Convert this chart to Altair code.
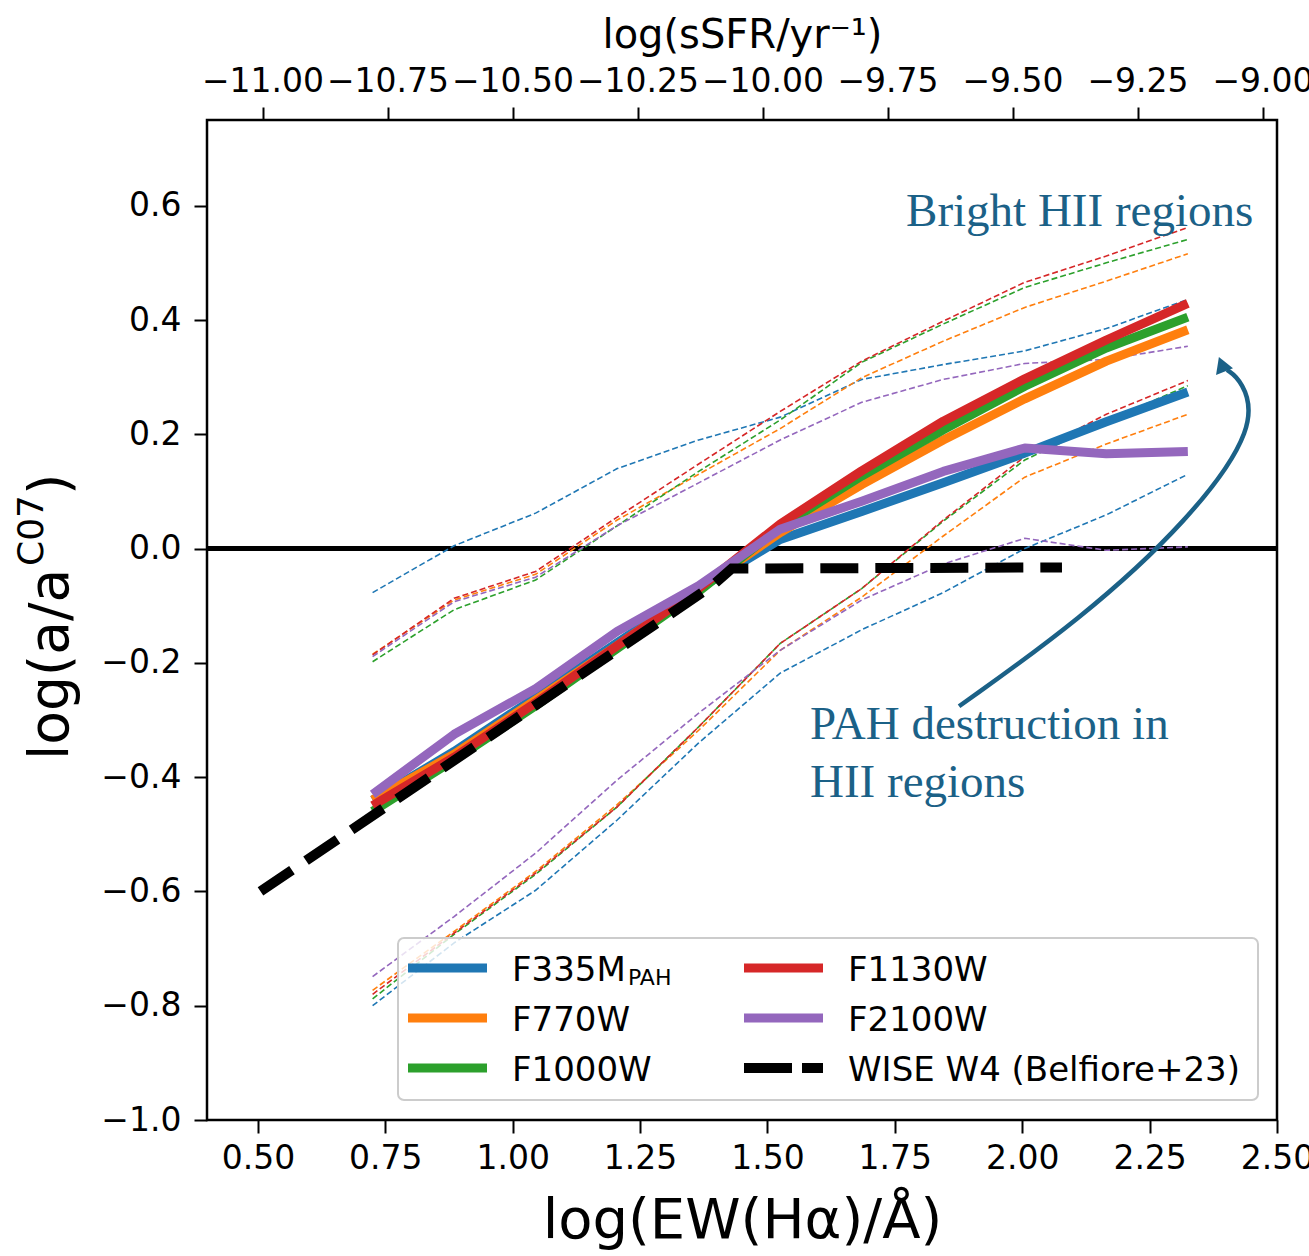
import altair as alt
import pandas as pd

# ---------------- data ----------------
x_pts = [0.725, 0.885, 1.045, 1.205, 1.365, 1.525, 1.685, 1.845, 2.005, 2.165, 2.325]

filters = ["F335M", "F770W", "F1000W", "F1130W", "F2100W"]
filter_colors = ["#1f77b4", "#ff7f0e", "#2ca02c", "#d62728", "#9467bd"]

med_F335M = [-0.44, -0.355, -0.26, -0.165, -0.07, 0.016, 0.065, 0.115, 0.167, 0.222, 0.274]
med_F770W = [-0.44, -0.36, -0.265, -0.17, -0.07, 0.028, 0.112, 0.19, 0.262, 0.328, 0.383]
med_F1000W = [-0.46, -0.37, -0.275, -0.175, -0.075, 0.038, 0.127, 0.208, 0.284, 0.351, 0.405]
med_F1130W = [-0.45, -0.365, -0.27, -0.17, -0.07, 0.043, 0.136, 0.223, 0.297, 0.365, 0.429]
med_F2100W = [-0.43, -0.325, -0.245, -0.145, -0.065, 0.034, 0.083, 0.135, 0.176, 0.166, 0.17]

hi_F335M = [-0.077, 0.005, 0.062, 0.14, 0.19, 0.23, 0.296, 0.322, 0.346, 0.385, 0.436]
hi_F770W = [-0.185, -0.09, -0.045, 0.05, 0.13, 0.21, 0.299, 0.363, 0.422, 0.468, 0.516]
hi_F1000W = [-0.198, -0.107, -0.055, 0.04, 0.135, 0.225, 0.326, 0.393, 0.457, 0.5, 0.541]
hi_F1130W = [-0.186, -0.087, -0.04, 0.055, 0.148, 0.24, 0.328, 0.398, 0.466, 0.512, 0.562]
hi_F2100W = [-0.189, -0.093, -0.05, 0.04, 0.115, 0.19, 0.256, 0.296, 0.324, 0.331, 0.354]

lo_F335M = [-0.80, -0.69, -0.598, -0.475, -0.34, -0.218, -0.142, -0.077, 0.0, 0.059, 0.13]
lo_F770W = [-0.773, -0.67, -0.565, -0.448, -0.318, -0.178, -0.085, 0.022, 0.125, 0.183, 0.235]
lo_F1000W = [-0.788, -0.675, -0.57, -0.452, -0.312, -0.166, -0.07, 0.048, 0.155, 0.223, 0.285]
lo_F1130W = [-0.78, -0.673, -0.568, -0.452, -0.312, -0.166, -0.07, 0.05, 0.161, 0.235, 0.294]
lo_F2100W = [-0.749, -0.644, -0.533, -0.405, -0.288, -0.178, -0.09, -0.027, 0.018, -0.003, 0.003]

wise_label = "WISE W4 (Belfiore+23)"
wise_x = [0.505, 1.39, 1.43, 2.078]
wise_y = [-0.6, -0.066, -0.035, -0.033]

ssfr_ticks = [-11.0, -10.75, -10.5, -10.25, -10.0, -9.75, -9.5, -9.25, -9.0]
ew_ticks = [0.5, 0.75, 1.0, 1.25, 1.5, 1.75, 2.0, 2.25, 2.5]
y_ticks = [-1.0, -0.8, -0.6, -0.4, -0.2, 0.0, 0.2, 0.4, 0.6]

annot_text = ["Bright HII regions", "PAH destruction in", "HII regions"]
annot_x = [1.772, 1.5835, 1.5835]
annot_y = [0.5645, -0.3333, -0.4348]

arrow_x = [1.876, 2.1134, 2.329, 2.463, 2.431, 2.402]
arrow_y = [-0.276, -0.125, 0.05, 0.216, 0.295, 0.3125]
head_x = [2.3915]
head_y = [0.3225]

# legend entries (label, colour), laid out column by column
legend_labels = ["F335M", "F770W", "F1000W", "F1130W", "F2100W", wise_label]
legend_colors = ["#1f77b4", "#ff7f0e", "#2ca02c", "#d62728", "#9467bd", "#000000"]

# ---------------- tables ----------------
med = {"F335M": med_F335M, "F770W": med_F770W, "F1000W": med_F1000W,
       "F1130W": med_F1130W, "F2100W": med_F2100W}
hi = {"F335M": hi_F335M, "F770W": hi_F770W, "F1000W": hi_F1000W,
      "F1130W": hi_F1130W, "F2100W": hi_F2100W}
lo = {"F335M": lo_F335M, "F770W": lo_F770W, "F1000W": lo_F1000W,
      "F1130W": lo_F1130W, "F2100W": lo_F2100W}

main_rows = []
for f in filters:
    for xv, yv in zip(x_pts, med[f]):
        main_rows.append({"x": xv, "y": yv, "series": f})
main_df = pd.DataFrame(main_rows)
wise_df = pd.DataFrame({"x": wise_x, "y": wise_y})

thin_rows = []
for f in filters:
    for band, vals in (("hi", hi[f]), ("lo", lo[f])):
        for xv, yv in zip(x_pts, vals):
            thin_rows.append({"x": xv, "y": yv, "series": f, "band": f + band})
thin_df = pd.DataFrame(thin_rows)

annot_df = pd.DataFrame({"x": annot_x, "y": annot_y, "text": annot_text})
arrow_df = pd.DataFrame({"x": arrow_x, "y": arrow_y, "i": list(range(len(arrow_x)))})
head_df = pd.DataFrame({"x": head_x, "y": head_y})
top_df = pd.DataFrame({"s": ssfr_ticks})
one = pd.DataFrame({"k": [0]})

ANN = "#1b6187"
color_scale = alt.Scale(domain=filters, range=filter_colors)

x_enc = alt.X("x:Q", scale=alt.Scale(domain=[0.4, 2.5], nice=False, zero=False),
              axis=alt.Axis(orient="bottom", values=ew_ticks, format=".2f",
                            title="log(EW(Hα)/Å)", titleFontSize=56,
                            labelPadding=9, titlePadding=18))
y_enc = alt.Y("y:Q", scale=alt.Scale(domain=[-1.0, 0.75], nice=False, zero=False),
              axis=alt.Axis(values=y_ticks, format=".1f", title="", labelPadding=13))

zero = alt.Chart(one).mark_rule(color="black", strokeWidth=5).encode(y=alt.datum(0.0))

thin = alt.Chart(thin_df).mark_line(strokeWidth=1.6, strokeDash=[6, 3]).encode(
    x=x_enc, y=y_enc,
    color=alt.Color("series:N", scale=color_scale, legend=None),
    detail="band:N",
)

thick = alt.Chart(main_df).mark_line(strokeWidth=9, strokeJoin="round", strokeCap="butt").encode(
    x="x:Q", y="y:Q",
    color=alt.Color("series:N", scale=color_scale, legend=None),
)

wise = alt.Chart(wise_df).mark_line(strokeWidth=10, color="black", strokeDash=[38, 17],
                                    strokeCap="butt").encode(x="x:Q", y="y:Q")

# ----- legend (drawn by hand, so that the subscript can be shown) -----
legend_layers = [
    alt.Chart(one).mark_rect(fill="white", fillOpacity=0.8, stroke="#cccccc",
                             strokeWidth=2, cornerRadius=6).encode(
        x=alt.value(191), x2=alt.value(1051), y=alt.value(818), y2=alt.value(980))
]
col_x = [201, 537]
row_y = [848, 898, 948]
for k, (lab, col) in enumerate(zip(legend_labels, legend_colors)):
    cx = col_x[k // 3]
    ry = row_y[k % 3]
    rule_kwargs = dict(color=col, strokeWidth=9, strokeCap="butt")
    if lab == wise_label:
        rule_kwargs["strokeDash"] = [48, 10]
        rule_kwargs["strokeWidth"] = 10
    legend_layers.append(
        alt.Chart(one).mark_rule(**rule_kwargs).encode(
            x=alt.value(cx), x2=alt.value(cx + 79), y=alt.value(ry)))
    legend_layers.append(
        alt.Chart(one).mark_text(text=lab, font="DejaVu Sans", fontSize=34, align="left",
                                 baseline="alphabetic", color="black").encode(
            x=alt.value(cx + 104), y=alt.value(ry + 12.5)))
legend_layers.append(
    alt.Chart(one).mark_text(text="PAH", font="DejaVu Sans", fontSize=22, align="left",
                             baseline="alphabetic", color="black").encode(
        x=alt.value(col_x[0] + 104 + 116), y=alt.value(row_y[0] + 17)))

annots = alt.Chart(annot_df).mark_text(font="Liberation Serif", fontSize=47, align="left",
                                       baseline="alphabetic", color=ANN).encode(
    x="x:Q", y="y:Q", text="text:N")

arrow = alt.Chart(arrow_df).mark_line(color=ANN, strokeWidth=4.5, interpolate="basis").encode(
    x="x:Q", y="y:Q", order="i:Q")

head = alt.Chart(head_df).mark_point(shape="triangle-up", filled=True, size=330, angle=339,
                                     color=ANN, opacity=1).encode(x="x:Q", y="y:Q")

yt1 = alt.Chart(one).mark_text(text="log(a/a", font="DejaVu Sans", fontSize=55, angle=270,
                               align="left", baseline="alphabetic", color="black").encode(
    x=alt.value(-139), y=alt.value(640))
yt2 = alt.Chart(one).mark_text(text="C07", font="DejaVu Sans", fontSize=36, angle=270,
                               align="left", baseline="alphabetic", color="black").encode(
    x=alt.value(-164), y=alt.value(446))
yt3 = alt.Chart(one).mark_text(text=")", font="DejaVu Sans", fontSize=55, angle=270,
                               align="left", baseline="alphabetic", color="black").encode(
    x=alt.value(-139), y=alt.value(375))

inner = alt.layer(zero, thin, thick, wise, *legend_layers, annots, arrow, head, yt1, yt2, yt3)

top = alt.Chart(top_df).mark_point(opacity=0).encode(
    x=alt.X("s:Q", scale=alt.Scale(domain=[-11.111, -8.971], nice=False, zero=False),
            axis=alt.Axis(orient="top", values=ssfr_ticks, format=".2f",
                          title="log(sSFR/yr⁻¹)", titleFontSize=40,
                          labelPadding=9, titlePadding=10)))

chart = alt.layer(inner, top).resolve_scale(x="independent").properties(
    width=1070, height=1000,
    padding={"left": 207, "top": 120, "right": 32, "bottom": 136},
    autosize=alt.AutoSizeParams(type="none"),
    background="white",
).configure_view(stroke="black", strokeWidth=2.5).configure_axis(
    domain=False, grid=False, tickColor="black", tickWidth=2, tickSize=13,
    labelFont="DejaVu Sans", labelFontSize=33, labelColor="black",
    titleFont="DejaVu Sans", titleColor="black", titleFontWeight="normal",
    labelOverlap=False, labelFlush=False, labelBound=False,
)

chart.save("out.html", embed_options={"renderer": "svg", "actions": False})
